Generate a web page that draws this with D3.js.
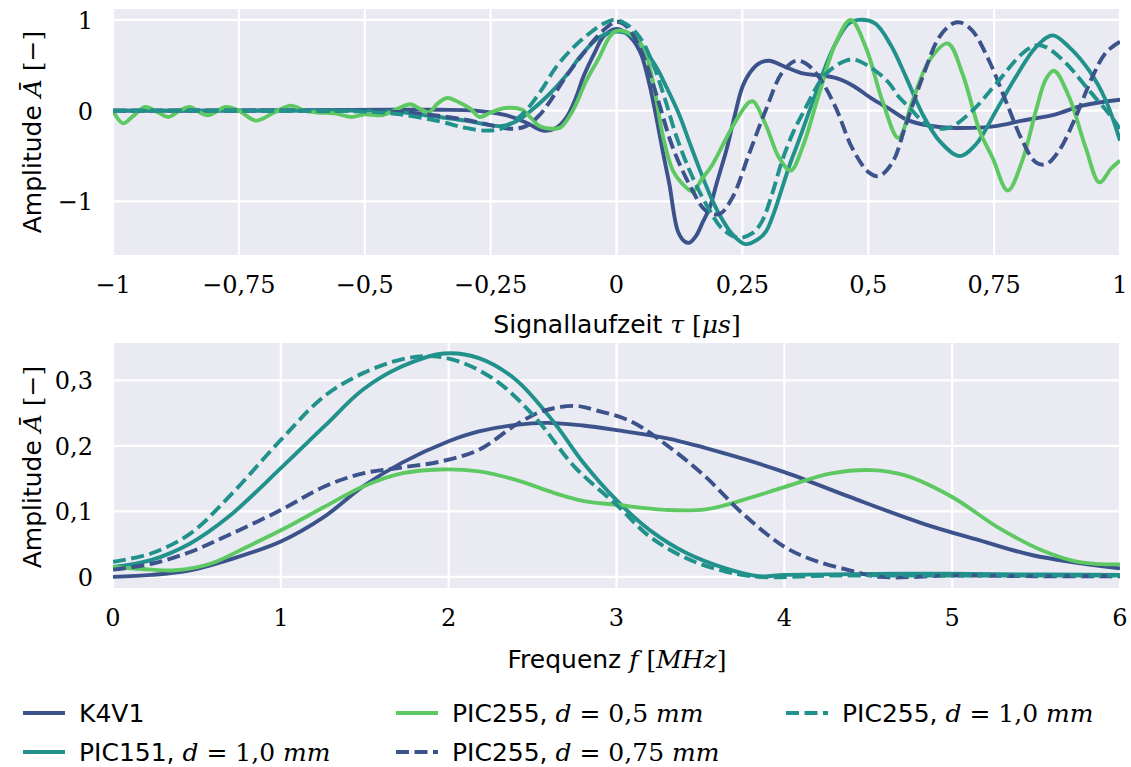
<!DOCTYPE html>
<html>
<head>
<meta charset="utf-8">
<script src="https://cdn.jsdelivr.net/npm/d3@7"></script>
<style>
  body { margin: 0; background: #fff; }
  .sans { font-family: "DejaVu Sans", sans-serif; }
  .serif { font-family: "DejaVu Serif", serif; }
</style>
</head>
<body>
<div id="chart"></div>
<script>
// ---- data ----
// time signals: [tau in us, amplitude]
var sigK4V1 = [[-1,0],[-0.8,0],[-0.6,0.005],[-0.45,0.01],[-0.35,0.01],[-0.28,0],[-0.22,-0.05],[-0.18,-0.13],[-0.146,-0.22],[-0.12,-0.19],[-0.1,-0.08],[-0.08,0.15],[-0.066,0.37],[-0.045,0.62],[-0.025,0.82],[0,0.9],[0.02,0.85],[0.046,0.66],[0.065,0.3],[0.079,-0.07],[0.092,-0.45],[0.105,-0.81],[0.122,-1.33],[0.135,-1.44],[0.145,-1.455],[0.158,-1.38],[0.172,-1.22],[0.185,-1.07],[0.2,-0.78],[0.218,-0.44],[0.235,-0.05],[0.25,0.26],[0.265,0.42],[0.283,0.52],[0.303,0.55],[0.336,0.48],[0.37,0.41],[0.402,0.39],[0.435,0.36],[0.468,0.28],[0.508,0.13],[0.542,0.02],[0.581,-0.11],[0.641,-0.18],[0.707,-0.19],[0.753,-0.17],[0.806,-0.11],[0.872,-0.04],[0.925,0.055],[1,0.12]];
var sigPIC151 = [[-1,0],[-0.7,0],[-0.5,0],[-0.42,-0.02],[-0.38,-0.05],[-0.3,-0.11],[-0.26,-0.15],[-0.23,-0.17],[-0.2,-0.12],[-0.17,0],[-0.145,0.12],[-0.12,0.26],[-0.095,0.42],[-0.073,0.59],[-0.034,0.81],[0,0.87],[0.025,0.84],[0.046,0.74],[0.079,0.48],[0.1,0.25],[0.125,-0.05],[0.145,-0.35],[0.164,-0.63],[0.185,-0.92],[0.204,-1.14],[0.23,-1.36],[0.256,-1.47],[0.28,-1.42],[0.297,-1.33],[0.313,-1.12],[0.329,-0.85],[0.345,-0.58],[0.362,-0.33],[0.395,0.18],[0.428,0.66],[0.461,0.96],[0.481,1.0],[0.514,0.96],[0.545,0.72],[0.575,0.37],[0.608,-0.04],[0.641,-0.33],[0.681,-0.5],[0.714,-0.37],[0.754,0],[0.793,0.37],[0.833,0.7],[0.866,0.83],[0.899,0.7],[0.939,0.44],[0.972,0.11],[1,-0.33]];
var sigPIC255_05 = [[-1,0],[-0.98,-0.14],[-0.96,-0.06],[-0.936,0.04],[-0.91,-0.02],[-0.89,-0.07],[-0.868,0],[-0.848,0.04],[-0.813,-0.05],[-0.776,0.04],[-0.75,0],[-0.716,-0.11],[-0.68,-0.02],[-0.647,0.055],[-0.62,0],[-0.594,-0.02],[-0.56,-0.03],[-0.526,-0.07],[-0.5,-0.04],[-0.465,-0.05],[-0.435,0.02],[-0.41,0.07],[-0.39,0.02],[-0.373,-0.02],[-0.355,0.08],[-0.336,0.14],[-0.312,0.09],[-0.29,0.02],[-0.272,-0.07],[-0.25,-0.02],[-0.22,0.03],[-0.187,0.01],[-0.17,-0.08],[-0.153,-0.17],[-0.127,-0.2],[-0.11,-0.18],[-0.087,0],[-0.06,0.33],[-0.034,0.59],[-0.014,0.81],[0,0.88],[0.026,0.85],[0.053,0.7],[0.073,0.3],[0.093,-0.3],[0.112,-0.66],[0.13,-0.8],[0.151,-0.89],[0.17,-0.75],[0.191,-0.59],[0.23,-0.18],[0.263,0.09],[0.272,0.1],[0.296,-0.15],[0.323,-0.52],[0.346,-0.66],[0.369,-0.41],[0.402,0.18],[0.435,0.74],[0.465,1.0],[0.495,0.7],[0.528,0.11],[0.56,-0.3],[0.588,0.11],[0.621,0.55],[0.658,0.74],[0.687,0.41],[0.721,-0.22],[0.747,-0.52],[0.777,-0.88],[0.806,-0.55],[0.833,0],[0.853,0.35],[0.869,0.44],[0.899,0.15],[0.932,-0.41],[0.959,-0.79],[0.982,-0.64],[1,-0.55]];
var sigPIC255_075 = [[-1,0],[-0.6,0],[-0.45,-0.01],[-0.38,-0.04],[-0.3,-0.1],[-0.25,-0.16],[-0.21,-0.2],[-0.18,-0.17],[-0.153,-0.05],[-0.13,0.12],[-0.106,0.33],[-0.066,0.63],[-0.027,0.88],[0,0.98],[0.02,0.93],[0.046,0.7],[0.079,0.18],[0.112,-0.41],[0.151,-0.88],[0.177,-1.1],[0.204,-1.14],[0.23,-0.96],[0.263,-0.48],[0.296,0],[0.329,0.42],[0.356,0.55],[0.376,0.52],[0.402,0.37],[0.435,0.04],[0.468,-0.41],[0.501,-0.68],[0.521,-0.72],[0.548,-0.57],[0.575,-0.15],[0.608,0.37],[0.641,0.81],[0.668,0.96],[0.684,0.97],[0.707,0.88],[0.74,0.55],[0.773,0.11],[0.806,-0.33],[0.833,-0.57],[0.853,-0.59],[0.879,-0.44],[0.912,-0.07],[0.945,0.37],[0.972,0.64],[1,0.76]];
var sigPIC255_10 = [[-1,0],[-0.7,0],[-0.5,-0.01],[-0.43,-0.04],[-0.35,-0.12],[-0.3,-0.19],[-0.26,-0.22],[-0.23,-0.2],[-0.2,-0.1],[-0.18,0],[-0.15,0.22],[-0.12,0.48],[-0.085,0.7],[-0.054,0.85],[-0.025,0.96],[-0.004,1.0],[0.02,0.95],[0.046,0.81],[0.07,0.55],[0.095,0.15],[0.12,-0.3],[0.15,-0.72],[0.18,-1.05],[0.21,-1.3],[0.243,-1.4],[0.27,-1.35],[0.289,-1.22],[0.31,-0.9],[0.329,-0.55],[0.35,-0.25],[0.369,-0.04],[0.415,0.4],[0.455,0.55],[0.475,0.56],[0.514,0.44],[0.542,0.3],[0.561,0.15],[0.581,0.04],[0.615,-0.15],[0.645,-0.2],[0.665,-0.18],[0.707,0],[0.753,0.29],[0.806,0.63],[0.833,0.72],[0.853,0.7],[0.893,0.52],[0.939,0.22],[0.979,-0.04],[1,-0.2]];

// spectra: [f in MHz, amplitude]
var specK4V1 = [[0,0.0],[0.23,0.003],[0.46,0.01],[0.69,0.026],[1,0.054],[1.26,0.092],[1.49,0.138],[1.72,0.174],[2,0.207],[2.18,0.222],[2.4,0.232],[2.59,0.235],[2.8,0.231],[3,0.224],[3.31,0.211],[3.65,0.188],[4,0.16],[4.39,0.122],[4.83,0.081],[5.16,0.056],[5.48,0.033],[6,0.013]];
var specPIC151 = [[0,0.015],[0.23,0.026],[0.46,0.051],[0.69,0.092],[1,0.166],[1.26,0.23],[1.49,0.286],[1.72,0.321],[1.97,0.341],[2.18,0.334],[2.4,0.301],[2.63,0.235],[2.8,0.175],[3,0.117],[3.2,0.071],[3.42,0.036],[3.65,0.013],[3.85,0.001],[4,0.003],[4.39,0.004],[4.83,0.005],[5.27,0.004],[6,0.003]];
var specPIC255_05 = [[0,0.015],[0.23,0.011],[0.37,0.01],[0.58,0.02],[0.8,0.046],[1,0.071],[1.26,0.107],[1.49,0.138],[1.72,0.158],[1.95,0.164],[2.18,0.161],[2.4,0.148],[2.63,0.128],[2.8,0.116],[3,0.11],[3.31,0.102],[3.53,0.103],[3.75,0.117],[4,0.137],[4.28,0.158],[4.52,0.163],[4.72,0.155],[5,0.122],[5.27,0.076],[5.53,0.041],[5.75,0.023],[6,0.019]];
var specPIC255_075 = [[0,0.011],[0.23,0.02],[0.46,0.038],[0.69,0.064],[1,0.102],[1.26,0.138],[1.49,0.158],[1.72,0.167],[1.95,0.176],[2.18,0.194],[2.4,0.232],[2.56,0.253],[2.75,0.261],[2.88,0.254],[3.09,0.237],[3.31,0.199],[3.53,0.153],[3.75,0.097],[4,0.046],[4.18,0.025],[4.39,0.01],[4.57,0.0],[5,0.002],[5.5,0.001],[6,0.001]];
var specPIC255_10 = [[0,0.023],[0.23,0.036],[0.46,0.066],[0.69,0.122],[1,0.209],[1.26,0.276],[1.49,0.311],[1.72,0.332],[1.88,0.337],[2.06,0.329],[2.29,0.298],[2.52,0.242],[2.75,0.168],[3,0.11],[3.2,0.061],[3.42,0.028],[3.65,0.008],[3.85,0.0],[4.3,0.002],[5,0.002],[6,0.002]];

// tick values and labels
var tauTicks = [-1, -0.75, -0.5, -0.25, 0, 0.25, 0.5, 0.75, 1];
var tauLabels = ["\u22121", "\u22120,75", "\u22120,5", "\u22120,25", "0", "0,25", "0,5", "0,75", "1"];
var ampTicks = [-1, 0, 1];
var ampLabels = ["\u22121", "0", "1"];
var freqTicks = [0, 1, 2, 3, 4, 5, 6];
var freqLabels = ["0", "1", "2", "3", "4", "5", "6"];
var specTicks = [0, 0.1, 0.2, 0.3];
var specLabels = ["0", "0,1", "0,2", "0,3"];

// series names (legend) and looks
var seriesNames = ["K4V1", "PIC151", "PIC255_05", "PIC255_075", "PIC255_10"];
var seriesColor = {K4V1: "#3b528b", PIC151: "#21918c", PIC255_05: "#5ec962", PIC255_075: "#3b528b", PIC255_10: "#21918c"};
var seriesDash = {K4V1: null, PIC151: null, PIC255_05: null, PIC255_075: "13,5.5", PIC255_10: "13,5.5"};
var sigData = {K4V1: sigK4V1, PIC151: sigPIC151, PIC255_05: sigPIC255_05, PIC255_075: sigPIC255_075, PIC255_10: sigPIC255_10};
var specData = {K4V1: specK4V1, PIC151: specPIC151, PIC255_05: specPIC255_05, PIC255_075: specPIC255_075, PIC255_10: specPIC255_10};

var width = 1131, height = 767;
var svg = d3.select("#chart").append("svg")
    .attr("width", width)
    .attr("height", height);

// draws one panel
function panel(id, top, bottom, xDomain, yDomain, xT, xL, yT, yL, data) {
    var x = d3.scaleLinear().domain(xDomain).range([113, 1120]);
    var y = d3.scaleLinear().domain(yDomain).range([bottom, top]);

    var g = svg.append("g");
    g.append("rect")
        .attr("x", 113).attr("y", top)
        .attr("width", 1120 - 113).attr("height", bottom - top)
        .attr("fill", "#eaeaf2");

    svg.append("clipPath").attr("id", id)
        .append("rect")
        .attr("x", 113).attr("y", top)
        .attr("width", 1120 - 113).attr("height", bottom - top);

    // grid
    g.selectAll(".gx").data(xT).enter().append("line")
        .attr("x1", function(d) { return x(d); }).attr("x2", function(d) { return x(d); })
        .attr("y1", top).attr("y2", bottom)
        .attr("stroke", "#fff").attr("stroke-width", 2.2);
    g.selectAll(".gy").data(yT).enter().append("line")
        .attr("y1", function(d) { return y(d); }).attr("y2", function(d) { return y(d); })
        .attr("x1", 113).attr("x2", 1120)
        .attr("stroke", "#fff").attr("stroke-width", 2.2);

    // tick labels
    g.selectAll(".tx").data(xT).enter().append("text")
        .attr("class", "serif")
        .attr("x", function(d) { return x(d); })
        .attr("y", bottom + 38)
        .attr("text-anchor", "middle")
        .attr("font-size", 24)
        .text(function(d, i) { return xL[i]; });
    g.selectAll(".ty").data(yT).enter().append("text")
        .attr("class", "serif")
        .attr("x", 93)
        .attr("y", function(d) { return y(d) + 9; })
        .attr("text-anchor", "end")
        .attr("font-size", 24)
        .text(function(d, i) { return yL[i]; });

    // lines
    var line = d3.line()
        .x(function(d) { return x(d[0]); })
        .y(function(d) { return y(d[1]); })
        .curve(d3.curveCatmullRom.alpha(0.5));
    var lg = g.append("g").attr("clip-path", "url(#" + id + ")");
    seriesNames.forEach(function(s) {
        lg.append("path")
            .datum(data[s])
            .attr("d", line)
            .attr("fill", "none")
            .attr("stroke", seriesColor[s])
            .attr("stroke-width", 3.9)
            .attr("stroke-dasharray", seriesDash[s])
            .attr("stroke-linejoin", "round");
    });
    return g;
}

panel("clipTop", 9, 255, [-1, 1], [-1.59, 1.12], tauTicks, tauLabels, ampTicks, ampLabels, sigData);
panel("clipBot", 343, 588, [0, 6], [-0.017, 0.357], freqTicks, freqLabels, specTicks, specLabels, specData);

// y axis labels
function yLabel(cy) {
    var t = svg.append("text")
        .attr("transform", "translate(41," + cy + ") rotate(-90)")
        .attr("text-anchor", "middle")
        .attr("font-size", 25);
    t.append("tspan").attr("class", "sans").text("Amplitude ");
    t.append("tspan").attr("class", "serif").attr("font-style", "italic").text("\u0100");
    t.append("tspan").attr("class", "serif").text(" [\u2212]");
}
yLabel(132);
yLabel(467);

// x axis labels
var xl1 = svg.append("text").attr("x", 617).attr("y", 333).attr("text-anchor", "middle").attr("font-size", 25);
xl1.append("tspan").attr("class", "sans").text("Signallaufzeit ");
xl1.append("tspan").attr("class", "serif").attr("font-style", "italic").text("\u03c4");
xl1.append("tspan").attr("class", "serif").text(" [");
xl1.append("tspan").attr("class", "serif").attr("font-style", "italic").text("\u03bcs");
xl1.append("tspan").attr("class", "serif").text("]");

var xl2 = svg.append("text").attr("x", 617).attr("y", 668).attr("text-anchor", "middle").attr("font-size", 25);
xl2.append("tspan").attr("class", "sans").text("Frequenz ");
xl2.append("tspan").attr("class", "serif").attr("font-style", "italic").text("f");
xl2.append("tspan").attr("class", "serif").text(" [");
xl2.append("tspan").attr("class", "serif").attr("font-style", "italic").text("MHz");
xl2.append("tspan").attr("class", "serif").text("]");

// legend
var legendItems = [
    {s: "K4V1", x: 23, y: 713, name: "K4V1", d: null},
    {s: "PIC151", x: 23, y: 752, name: "PIC151, ", d: "1,0"},
    {s: "PIC255_05", x: 396, y: 713, name: "PIC255, ", d: "0,5"},
    {s: "PIC255_075", x: 396, y: 752, name: "PIC255, ", d: "0,75"},
    {s: "PIC255_10", x: 786, y: 713, name: "PIC255, ", d: "1,0"}
];
var leg = svg.append("g");
legendItems.forEach(function(it) {
    leg.append("line")
        .attr("x1", it.x).attr("x2", it.x + 42)
        .attr("y1", it.y).attr("y2", it.y)
        .attr("stroke", seriesColor[it.s])
        .attr("stroke-width", 3.9)
        .attr("stroke-dasharray", seriesDash[it.s]);
    var t = leg.append("text").attr("x", it.x + 56).attr("y", it.y + 9).attr("font-size", 25);
    t.append("tspan").attr("class", "sans").text(it.name);
    if (it.d) {
        t.append("tspan").attr("class", "serif").attr("font-style", "italic").text("d");
        t.append("tspan").attr("class", "serif").text(" = " + it.d + " ");
        t.append("tspan").attr("class", "serif").attr("font-style", "italic").text("mm");
    }
});
</script>
</body>
</html>
